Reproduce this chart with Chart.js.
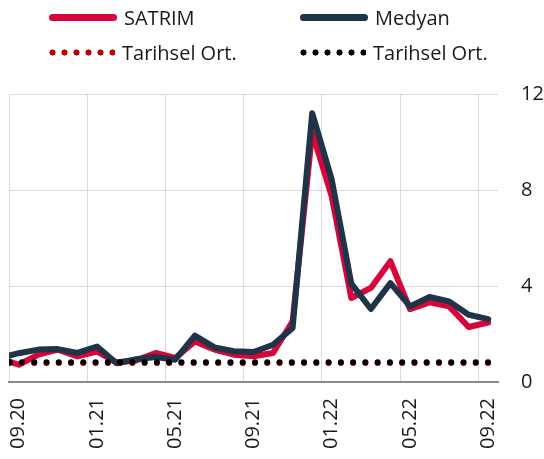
<!DOCTYPE html>
<html>
<head>
<meta charset="utf-8">
<script src="https://cdn.jsdelivr.net/npm/chart.js@4/dist/chart.umd.min.js"></script>
<style>
  html, body { margin: 0; padding: 0; background: #fff; }
  #wrap { position: relative; width: 544px; height: 459px; font-family: "Open Sans", sans-serif; }
  #legend { position: absolute; left: 0; top: 0; width: 544px; height: 80px; }
  .item { position: absolute; display: flex; align-items: center; font-size: 20px; color: #1a1a1a; }
  .mark { width: 68px; margin-right: 7px; }
  .solid { height: 7px; border-radius: 4px; }
  .dots { height: 7px; background-size: 12px 7px; background-repeat: repeat-x; }
</style>
</head>
<body>
<div id="wrap">
  <canvas id="myChart" width="544" height="459"></canvas>
  <div id="legend"></div>
</div>
<script>
// months, 08.20 .. 09.22
const months = ['08.20','09.20','10.20','11.20','12.20','01.21','02.21','03.21','04.21','05.21','06.21','07.21','08.21',
  '09.21','10.21','11.21','12.21','01.22','02.22','03.22','04.22','05.22','06.22','07.22','08.22','09.22'];
const labelIdx = [1, 5, 9, 13, 17, 21, 25];

const satrim = [1.0, 0.72, 1.14, 1.35, 1.07, 1.27, 0.82, 0.9, 1.21, 1.0, 1.69, 1.35, 1.14, 1.07, 1.21, 2.53,
  10.4, 7.73, 3.5, 3.92, 5.03, 3.04, 3.32, 3.15, 2.29, 2.48];
const medyan = [1.0, 1.2, 1.35, 1.37, 1.21, 1.48, 0.78, 0.95, 1.04, 0.93, 1.93, 1.44, 1.28, 1.25, 1.55, 2.25,
  11.2, 8.43, 4.1, 3.04, 4.12, 3.15, 3.54, 3.36, 2.8, 2.62];
const satrimOrt = 0.79;
const medyanOrt = 0.82;
const yTicks = [0, 4, 8, 12];

const RED = '#d6063a';
const NAVY = '#1f3448';

const pts = arr => arr.map((v, i) => ({ x: i, y: v }));
const flat = v => months.map((m, i) => ({ x: i, y: v }));

const ctx = document.getElementById('myChart');

const chart = new Chart(ctx, {
  type: 'line',
  data: {
    datasets: [
      { label: 'SATRIM', data: pts(satrim), borderColor: RED, borderWidth: 6, order: 3 },
      { label: 'Medyan', data: pts(medyan), borderColor: NAVY, borderWidth: 6, order: 2 },
      { label: 'Tarihsel Ort.', data: flat(satrimOrt), borderColor: '#c00000', borderWidth: 6,
        borderDash: [0, 12.264], borderDashOffset: 1.76, order: 1, dots: true },
      { label: 'Tarihsel Ort.', data: flat(medyanOrt), borderColor: '#000000', borderWidth: 6,
        borderDash: [0, 12.264], borderDashOffset: 1.76, order: 0, dots: true }
    ]
  },
  options: {
    responsive: false,
    animation: false,
    layout: { padding: { top: 94, left: 9, right: 0, bottom: 0 } },
    elements: {
      point: { radius: 0 },
      line: { tension: 0, borderCapStyle: 'round', borderJoinStyle: 'round' }
    },
    plugins: { legend: { display: false }, tooltip: { enabled: false } },
    scales: {
      x: {
        type: 'linear',
        min: 0.5,
        max: 25.5,
        afterBuildTicks: s => { s.ticks = labelIdx.map(i => ({ value: i - 0.5 })); },
        afterFit: s => { s.height = 77; s.paddingLeft = 0; s.paddingRight = 0; },
        ticks: {
          autoSkip: false,
          minRotation: 90,
          maxRotation: 90,
          labelOffset: 9.78,
          padding: 16,
          color: '#1a1a1a',
          font: { family: 'Open Sans', size: 20 },
          callback: v => months[Math.round(v + 0.5)]
        },
        grid: { color: '#dadada', lineWidth: 1, drawTicks: false },
        border: { display: true, color: '#8a8a8a', width: 2 }
      },
      y: {
        position: 'right',
        min: 0,
        max: 12,
        afterBuildTicks: s => { s.ticks = yTicks.map(v => ({ value: v })); },
        afterFit: s => { s.width = 46; },
        ticks: {
          padding: 23,
          color: '#1a1a1a',
          font: { family: 'Open Sans', size: 20 }
        },
        grid: { color: '#dadada', lineWidth: 1, drawTicks: false },
        border: { display: false }
      }
    }
  }
});

// legend, two columns
const legend = document.getElementById('legend');
const slots = [[49, 17], [300, 17], [49, 52], [300, 52]];
chart.data.datasets.forEach((ds, i) => {
  const item = document.createElement('div');
  item.className = 'item';
  item.style.left = slots[i][0] + 'px';
  item.style.top = (slots[i][1] - 14) + 'px';
  item.style.height = '28px';
  const mark = document.createElement('div');
  if (ds.dots) {
    mark.className = 'mark dots';
    mark.style.width = '66px';
    mark.style.backgroundImage = 'radial-gradient(circle at 3.5px 3.5px, ' + ds.borderColor + ' 2.8px, transparent 3.3px)';
  } else {
    mark.className = 'mark solid';
    mark.style.background = ds.borderColor;
  }
  const txt = document.createElement('span');
  txt.textContent = ds.label;
  item.appendChild(mark);
  item.appendChild(txt);
  legend.appendChild(item);
});
</script>
</body>
</html>
